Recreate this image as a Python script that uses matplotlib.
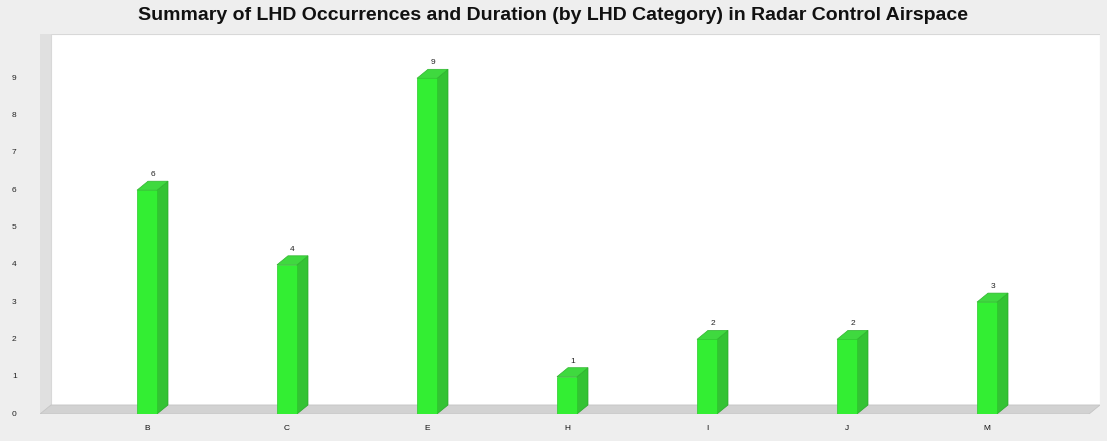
import matplotlib
matplotlib.use('Agg')
import matplotlib.pyplot as plt
from matplotlib.patches import Polygon, Rectangle

categories = ['B', 'C', 'E', 'H', 'I', 'J', 'M']
counts = [6, 4, 9, 1, 2, 2, 3]
title = 'Summary of LHD Occurrences and Duration (by LHD Category) in Radar Control Airspace'

W, H = 1107, 441
DPI = 100
fig = plt.figure(figsize=(W / DPI, H / DPI), dpi=DPI)
fig.patch.set_facecolor('#eeeeee')
plt.rcParams['font.family'] = ['Liberation Sans', 'DejaVu Sans']

# axes in pixel terms: front floor at y=414, categories 140 px apart
left_px, right_px, base_px, top_px = 40, 1100, 414, 34
px_per_cat, px_per_unit = 140.0, 37.3
first_center = 147
ax = fig.add_axes([left_px / W, (H - base_px) / H,
                   (right_px - left_px) / W, (base_px - top_px) / H])
xmin = (left_px - first_center) / px_per_cat
xmax = (right_px - first_center) / px_per_cat
ymax = (base_px - top_px) / px_per_unit
ax.set_xlim(xmin, xmax)
ax.set_ylim(0, ymax)
ax.axis('off')

dx = 11 / px_per_cat
dy = 9 / px_per_unit
bw = 20 / px_per_cat

# box: left wall, back wall, floor
ax.add_patch(Polygon([(xmin, 0), (xmin + dx, dy), (xmin + dx, ymax), (xmin, ymax)],
                     closed=True, fc='#e0e0e0', ec='none', zorder=0))
ax.add_patch(Rectangle((xmin + dx, dy), xmax - xmin - dx, ymax - dy,
                       fc='white', ec='#d8d8d8', lw=0.8, zorder=0))
ax.add_patch(Polygon([(xmin, 0), (xmax - dx, 0), (xmax, dy), (xmin + dx, dy)],
                     closed=True, fc='#d2d2d2', ec='#c4c4c4', lw=0.6, zorder=1))

for i, (cat, v) in enumerate(zip(categories, counts)):
    x0 = i - bw / 2
    x1 = i + bw / 2
    # side face
    ax.add_patch(Polygon([(x1, 0), (x1 + dx, dy), (x1 + dx, v + dy), (x1, v)],
                         closed=True, fc='#34c334', ec='#2aa82a', lw=0.5, zorder=3))
    # top face
    ax.add_patch(Polygon([(x0, v), (x1, v), (x1 + dx, v + dy), (x0 + dx, v + dy)],
                         closed=True, fc='#3fd93f', ec='#2fb52f', lw=0.5, zorder=3))
    # front face
    ax.bar(i, v, width=bw, color='#33ee33', edgecolor='#2cc82c', lw=0.5, zorder=4)
    ax.text(i + dx / 2, v + dy + 0.08, str(v), ha='center', va='bottom',
            fontsize=6, color='#222222', zorder=5)
    ax.text(i, -0.3, cat, ha='center', va='top', fontsize=6, color='#111111')

for t in range(10):
    ax.text(xmin - 28 / px_per_cat, t, str(t), ha='left', va='center',
            fontsize=6, color='#222222', clip_on=False)

fig.text(0.5, 1 - 15 / H, title, ha='center', va='center',
         fontsize=14, fontweight='bold', color='#111111')

fig.savefig('out.png', dpi=DPI, facecolor=fig.get_facecolor())
